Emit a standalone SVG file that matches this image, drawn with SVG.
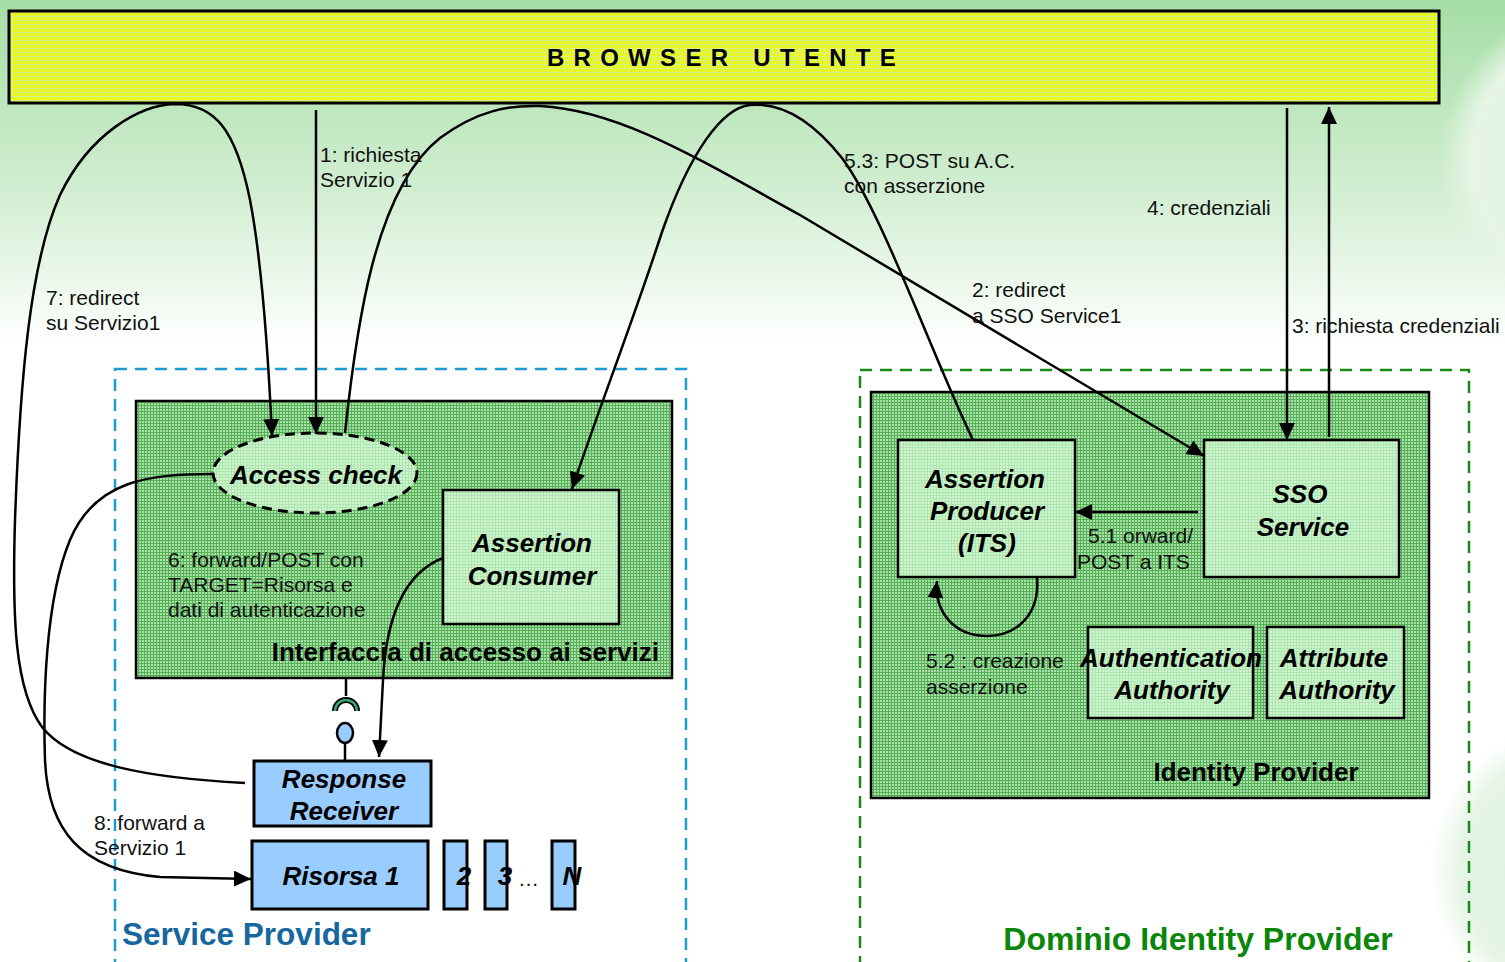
<svg xmlns="http://www.w3.org/2000/svg" width="1505" height="962" viewBox="0 0 1505 962">
<defs>
<linearGradient id="bg" x1="0" y1="0" x2="0" y2="1" gradientUnits="objectBoundingBox">
<stop offset="0" stop-color="#a5dea5"/>
<stop offset="0.2" stop-color="#d2eed2"/>
<stop offset="0.36" stop-color="#ffffff"/>
<stop offset="1" stop-color="#ffffff"/>
</linearGradient>
<radialGradient id="blob" cx="0.5" cy="0.5" r="0.5">
<stop offset="0" stop-color="#d8f0d8"/>
<stop offset="0.8" stop-color="#e6f5e6"/>
<stop offset="1" stop-color="#e6f5e6" stop-opacity="0"/>
</radialGradient>
<pattern id="pYellow" width="4" height="4" patternUnits="userSpaceOnUse">
<rect width="4" height="4" fill="#ecfa0a"/>
<path d="M0,0.5 H4 M0.5,0 V4" stroke="#d6f08a" stroke-width="1"/>
</pattern>
<pattern id="pGreen" width="3" height="3" patternUnits="userSpaceOnUse">
<rect width="3" height="3" fill="#abdfab"/>
<path d="M0,0.5 H3 M0.5,0 V3" stroke="#56b056" stroke-width="1"/>
</pattern>
<pattern id="pLight" width="3" height="3" patternUnits="userSpaceOnUse">
<rect width="3" height="3" fill="#cff7cf"/>
<path d="M0,0.5 H3 M0.5,0 V3" stroke="#b0e4b0" stroke-width="1"/>
</pattern>
<marker id="arr" markerUnits="userSpaceOnUse" markerWidth="18" markerHeight="16" refX="17" refY="8" orient="auto">
<path d="M0,0 L17,8 L0,16 z" fill="#000"/>
</marker>
<style>
.box{stroke:#000;stroke-width:2.5}
.inner{fill:url(#pLight);stroke:#000;stroke-width:2.5}
.blue{fill:#99ccff;stroke:#000;stroke-width:3}
.nl{font-family:"Liberation Sans",Arial,sans-serif;font-weight:bold;font-style:italic;font-size:26px;fill:#000;text-anchor:middle}
.lbl{font-family:"Liberation Sans",Arial,sans-serif;font-size:21px;fill:#111}
.big{font-family:"Liberation Sans",Arial,sans-serif;font-weight:bold;font-size:26px;fill:#000}
.conn{fill:none;stroke:#000;stroke-width:2.5}
</style>
</defs>

<rect width="1505" height="962" fill="url(#bg)"/>
<circle cx="1600" cy="160" r="160" fill="url(#blob)"/>
<circle cx="1580" cy="870" r="150" fill="url(#blob)"/>

<g id="browser">
<rect x="9" y="11" width="1430" height="92" fill="url(#pYellow)" stroke="#000" stroke-width="3"/>
<text x="726" y="66" font-family="Liberation Sans,Arial,sans-serif" font-weight="bold" font-size="24" letter-spacing="9.3" text-anchor="middle">BROWSER UTENTE</text>
</g>

<g id="service-provider">
<rect x="115" y="369" width="571" height="600" fill="none" stroke="#1a9bd4" stroke-width="2.5" stroke-dasharray="12,8"/>
<text x="122" y="945" font-family="Liberation Sans,Arial,sans-serif" font-weight="bold" font-size="31.5" fill="#17679f">Service Provider</text>
</g>

<g id="interfaccia">
<rect x="136" y="401" width="536" height="277" fill="url(#pGreen)" class="box"/>
<text x="659" y="661" class="big" text-anchor="end">Interfaccia di accesso ai servizi</text>
<text class="lbl" font-size="20"><tspan x="168" y="567">6: forward/POST con</tspan><tspan x="168" y="592">TARGET=Risorsa e</tspan><tspan x="168" y="617">dati di autenticazione</tspan></text>
</g>

<g id="access-check">
<ellipse cx="315" cy="473" rx="102" ry="40" fill="url(#pLight)" stroke="#000" stroke-width="3" stroke-dasharray="10,6"/>
<text x="316" y="484" class="nl">Access check</text>
</g>

<g id="assertion-consumer">
<rect x="443" y="490" width="176" height="134" class="inner"/>
<text class="nl"><tspan x="532" y="552">Assertion</tspan><tspan x="532" y="585">Consumer</tspan></text>
</g>

<g id="interface-symbol">
<line x1="346" y1="678" x2="346" y2="696" stroke="#000" stroke-width="2.5"/>
<path d="M335,711 A11,11 0 0 1 357,711" fill="none" stroke="#000" stroke-width="6"/>
<path d="M335,711 A11,11 0 0 1 357,711" fill="none" stroke="#3aa472" stroke-width="2.5"/>
<ellipse cx="345" cy="733" rx="8" ry="10" fill="#99ccff" stroke="#000" stroke-width="2.5"/>
<line x1="345" y1="743" x2="345" y2="761" stroke="#000" stroke-width="2.5"/>
</g>

<g id="response-receiver">
<rect x="254" y="761" width="177" height="65" class="blue"/>
<text class="nl"><tspan x="344" y="788">Response</tspan><tspan x="344" y="820">Receiver</tspan></text>
</g>

<g id="risorsa-1">
<rect x="252" y="841" width="176" height="68" class="blue"/>
<text x="341" y="885" class="nl">Risorsa 1</text>
</g>
<g id="risorsa-2">
<rect x="444" y="841" width="23" height="68" class="blue"/>
<text x="464" y="885" class="nl">2</text>
</g>
<g id="risorsa-3">
<rect x="485" y="841" width="22" height="68" class="blue"/>
<text x="505" y="885" class="nl">3</text>
<text x="518" y="886" class="lbl" font-size="19">…</text>
</g>
<g id="risorsa-n">
<rect x="552" y="841" width="23" height="68" class="blue"/>
<text x="572" y="885" class="nl">N</text>
</g>

<g id="dominio-idp">
<rect x="860" y="370" width="609" height="600" fill="none" stroke="#158a15" stroke-width="2.5" stroke-dasharray="12,8"/>
<text x="1198" y="950" font-family="Liberation Sans,Arial,sans-serif" font-weight="bold" font-size="32" fill="#0a870a" text-anchor="middle">Dominio Identity Provider</text>
</g>

<g id="identity-provider">
<rect x="871" y="392" width="558" height="406" fill="url(#pGreen)" class="box"/>
<text x="1256" y="781" class="big" text-anchor="middle">Identity Provider</text>
<text class="lbl"><tspan x="926" y="668">5.2 : creazione</tspan><tspan x="926" y="694">asserzione</tspan></text>
<text class="lbl"><tspan x="1088" y="543">5.1 orward/</tspan><tspan x="1077" y="569">POST a ITS</tspan></text>
</g>

<g id="assertion-producer">
<rect x="898" y="440" width="177" height="137" class="inner"/>
<text class="nl"><tspan x="985" y="488">Assertion</tspan><tspan x="987" y="520">Producer</tspan><tspan x="987" y="552">(ITS)</tspan></text>
</g>

<g id="sso-service">
<rect x="1204" y="440" width="195" height="137" class="inner"/>
<text class="nl"><tspan x="1300" y="503">SSO</tspan><tspan x="1303" y="536">Service</tspan></text>
</g>

<g id="authentication-authority">
<rect x="1088" y="627" width="165" height="91" class="inner"/>
<text class="nl"><tspan x="1171" y="667">Authentication</tspan><tspan x="1172" y="699">Authority</tspan></text>
</g>

<g id="attribute-authority">
<rect x="1267" y="627" width="137" height="91" class="inner"/>
<text class="nl"><tspan x="1334" y="667">Attribute</tspan><tspan x="1337" y="699">Authority</tspan></text>
</g>

<g id="connectors">
<!-- 1 -->
<line x1="316" y1="110" x2="316" y2="434" class="conn" marker-end="url(#arr)"/>
<!-- 7 -->
<path d="M245,783 C150,778 72,765 42,727 C15,690 12,620 15,520 C20,380 30,262 60,195 C90,133 140,105 175,104 C215,104 236,130 250,200 C262,262 268,350 272,436" class="conn" marker-end="url(#arr)"/>
<!-- 2 -->
<path d="M345,433 C356,330 374,190 440,138 C478,110 510,105 540,106 C620,110 700,160 800,215 L1204,456" class="conn" marker-end="url(#arr)"/>
<!-- 5.3 -->
<path d="M973,440 C930,350 882,212 842,158 C804,110 772,103 750,105 C722,108 690,152 662,232 C634,318 602,400 572,489" class="conn" marker-end="url(#arr)"/>
<!-- 4 -->
<line x1="1287" y1="108" x2="1287" y2="440" class="conn" marker-end="url(#arr)"/>
<!-- 3 -->
<line x1="1329" y1="437" x2="1329" y2="107" class="conn" marker-end="url(#arr)"/>
<!-- 5.1 -->
<line x1="1198" y1="512" x2="1075" y2="512" class="conn" marker-end="url(#arr)"/>
<!-- 5.2 -->
<path d="M1037,578 C1040,615 1016,636 987,636 C956,636 934,614 937,581" class="conn" marker-end="url(#arr)"/>
<!-- 6 -->
<path d="M443,558 C402,574 386,620 383,680 L379,757" class="conn" marker-end="url(#arr)"/>
<!-- 8 -->
<path d="M212,474 C150,474 95,480 70,540 C45,600 43,700 45,760 C48,830 80,870 160,877 L251,879" class="conn" marker-end="url(#arr)"/>
</g>

<g id="labels">
<text class="lbl"><tspan x="320" y="162">1: richiesta</tspan><tspan x="320" y="187">Servizio 1</tspan></text>
<text class="lbl"><tspan x="46" y="305">7: redirect</tspan><tspan x="46" y="330">su Servizio1</tspan></text>
<text class="lbl"><tspan x="844" y="168">5.3: POST su A.C.</tspan><tspan x="844" y="193">con asserzione</tspan></text>
<text class="lbl"><tspan x="972" y="297">2: redirect</tspan><tspan x="972" y="323">a SSO Service1</tspan></text>
<text class="lbl" x="1147" y="215">4: credenziali</text>
<text class="lbl" x="1292" y="333">3: richiesta credenziali</text>
<text class="lbl"><tspan x="94" y="830">8: forward a</tspan><tspan x="94" y="855">Servizio 1</tspan></text>
</g>
</svg>
